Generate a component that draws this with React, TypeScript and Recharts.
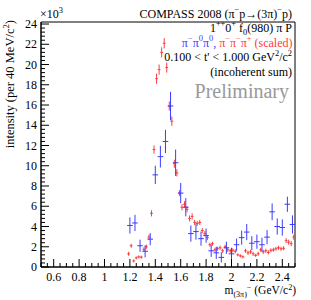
import React from "react";
import { ScatterChart, Scatter, XAxis, YAxis, ErrorBar, ReferenceArea } from "recharts";

// pi- pi0 pi0 (40 MeV bins)
const neutralMass = [
  1.2, 1.24, 1.28, 1.32, 1.36, 1.4, 1.44, 1.48, 1.52, 1.56, 1.6, 1.64, 1.68, 1.72, 1.76, 1.8, 1.84,
  1.88, 1.92, 1.96, 2.0, 2.04, 2.08, 2.12, 2.16, 2.2, 2.24, 2.28, 2.32, 2.36, 2.4, 2.44, 2.48,
];
const neutralVal = [
  4.1, 4.35, 2.1, 1.55, 2.75, 9.1, 10.9, 12.4, 15.9, 10.3, 7.3, 5.9, 3.3, 3.5, 2.8, 3.1, 1.6,
  1.4, 0.95, 1.9, 1.3, 2.2, 2.9, 3.45, 2.35, 2.5, 2.2, 2.95, 5.45, 4.0, 3.9, 6.2, 4.2,
];
const neutralErr = [
  0.8, 0.8, 0.6, 0.6, 0.6, 0.9, 1.07, 1.15, 1.4, 1.3, 1.0, 0.9, 0.8, 0.8, 0.7, 0.7, 0.6,
  0.6, 0.5, 0.6, 0.6, 0.6, 0.7, 0.8, 0.7, 0.7, 0.7, 0.7, 0.83, 0.8, 0.8, 0.75, 0.9,
];

// pi- pi- pi+ scaled (20 MeV bins)
const chargedMass = [
  1.19, 1.21, 1.23, 1.25, 1.27, 1.29, 1.31, 1.33, 1.35, 1.37, 1.39, 1.41, 1.43, 1.45, 1.47, 1.49,
  1.51, 1.53, 1.55, 1.57, 1.59, 1.61, 1.63, 1.65, 1.67, 1.69, 1.71, 1.73, 1.75, 1.77, 1.79, 1.81,
  1.83, 1.85, 1.87, 1.89, 1.91, 1.93, 1.95, 1.97, 1.99, 2.01, 2.03, 2.05, 2.07, 2.09, 2.11, 2.13,
  2.15, 2.17, 2.19, 2.21, 2.23, 2.25, 2.27, 2.29, 2.31, 2.33, 2.35, 2.37, 2.39, 2.41, 2.43, 2.45,
  2.47, 2.49,
];
const chargedVal = [
  1.3, 2.1, 0.6, 0.9, 1.0, 0.97, 1.75, 2.0, 2.95, 5.3, 11.6, 18.6, 19.5, 21.2, 22.1, 19.7,
  15.9, 14.4, 10.2, 9.3, 7.3, 5.9, 6.2, 5.7, 4.8, 5.0, 4.4, 4.3, 4.4, 3.6, 3.3, 2.9,
  2.2, 2.3, 1.7, 1.8, 1.9, 1.6, 2.0, 1.7, 1.6, 1.65, 1.55, 1.2, 1.1, 1.0, 1.6, 1.4,
  1.5, 1.3, 1.15, 1.3, 1.7, 1.5, 1.6, 1.45, 1.65, 1.7, 1.8, 1.9, 1.8, 1.85, 2.6, 2.45,
  2.3, 2.95,
];
const chargedErr = [
  0.2, 0.2, 0.15, 0.15, 0.15, 0.15, 0.2, 0.2, 0.25, 0.3, 0.4, 0.5, 0.5, 0.5, 0.5, 0.5,
  0.45, 0.45, 0.4, 0.35, 0.3, 0.3, 0.3, 0.3, 0.3, 0.3, 0.25, 0.25, 0.25, 0.25, 0.25, 0.25,
  0.2, 0.2, 0.2, 0.2, 0.2, 0.2, 0.2, 0.2, 0.2, 0.2, 0.2, 0.15, 0.15, 0.15, 0.2, 0.2,
  0.2, 0.2, 0.15, 0.2, 0.2, 0.2, 0.2, 0.2, 0.2, 0.2, 0.2, 0.2, 0.2, 0.2, 0.25, 0.25,
  0.25, 0.25,
];

const xMajor = [0.6, 0.8, 1, 1.2, 1.4, 1.6, 1.8, 2, 2.2, 2.4];
const yMajor = [0, 2, 4, 6, 8, 10, 12, 14, 16, 18, 20, 22, 24];

const X_MIN = 0.5;
const X_MAX = 2.5;
const Y_MAX = 24.2;

const xTicks: number[] = [];
for (let i = 0; i <= 40; i++) xTicks.push(+(X_MIN + i * 0.05).toFixed(2));
const yTicks: number[] = [];
for (let i = 0; i <= 60; i++) yTicks.push(+(i * 0.4).toFixed(1));

const neutral = neutralMass.map((x, i) => ({ x, y: neutralVal[i], ey: neutralErr[i], ex: 0.022 }));
const charged = chargedMass.map((x, i) => ({ x, y: chargedVal[i], ey: chargedErr[i], ex: 0.011 }));

const FONT = "'Liberation Serif', 'DejaVu Serif', serif";
const BLUE = "#3b3bff";
const RED = "#ff3b3b";

const near = (a: number, b: number) => Math.abs(a - b) < 1e-6;

const XTick = (props: any) => {
  const { x, y, payload } = props;
  const major = xMajor.some((m) => near(m, payload.value));
  return (
    <g>
      <line x1={x} x2={x} y1={y} y2={y - (major ? 8 : 4)} stroke="#000" />
      {major && (
        <text x={x} y={y + 13.5} textAnchor="middle" fontFamily={FONT} fontSize={12} fill="#000">
          {payload.value}
        </text>
      )}
    </g>
  );
};

const YTick = (props: any) => {
  const { x, y, payload } = props;
  const major = yMajor.some((m) => near(m, payload.value));
  return (
    <g>
      <line x1={x} x2={x + (major ? 8 : 4)} y1={y} y2={y} stroke="#000" />
      {major && (
        <text x={x - 4} y={y + 4} textAnchor="end" fontFamily={FONT} fontSize={12} fill="#000">
          {payload.value}
        </text>
      )}
    </g>
  );
};

type Part = [string, string?, string?];

// renders text with super/subscripts; part = [text, "sup"|"sub"|"", colour]
const Rich = ({ x, y, size, parts, anchor = "end", fill = "#000", rotate, supShift = 0.42 }: any) => {
  let off = 0;
  return (
    <text
      x={x}
      y={y}
      textAnchor={anchor}
      fontFamily={FONT}
      fontSize={size}
      fill={fill}
      transform={rotate ? `rotate(${rotate} ${x} ${y})` : undefined}
    >
      {parts.map((p: Part, i: number) => {
        const kind = p[1] || "";
        let target = 0;
        if (kind === "sup") target = -supShift * size;
        if (kind === "sub") target = 0.25 * size;
        const dy = target - off;
        off = target;
        const small = kind !== "";
        return (
          <tspan key={i} dy={dy} fontSize={small ? size * 0.7 : size} fill={p[2] || fill}>
            {p[0]}
          </tspan>
        );
      })}
    </text>
  );
};

const noMarker = () => <g />;

export default function App() {
  return (
    <div style={{ position: "absolute", left: 0, top: 0, width: 311, height: 300, background: "#fff" }}>
      <ScatterChart width={311} height={300} margin={{ top: 22, right: 16, bottom: 0, left: 0 }}>
        <XAxis
          dataKey="x"
          type="number"
          domain={[X_MIN, X_MAX]}
          ticks={xTicks}
          interval={0}
          tick={<XTick />}
          tickLine={false}
          tickSize={0}
          tickMargin={0}
          height={33}
          axisLine={{ stroke: "#000" }}
          allowDataOverflow
        />
        <YAxis
          dataKey="y"
          type="number"
          domain={[0, Y_MAX]}
          ticks={yTicks}
          interval={0}
          tick={<YTick />}
          tickLine={false}
          tickSize={0}
          tickMargin={0}
          width={41}
          axisLine={{ stroke: "#000" }}
          allowDataOverflow
        />
        <ReferenceArea x1={X_MIN} x2={X_MAX} y1={0} y2={Y_MAX} fill="none" stroke="#000" strokeWidth={1} />
        <Scatter data={charged} shape={noMarker} isAnimationActive={false}>
          <ErrorBar dataKey="ey" direction="y" width={0} stroke={RED} strokeWidth={1} />
          <ErrorBar dataKey="ex" direction="x" width={0} stroke={RED} strokeWidth={1} />
        </Scatter>
        <Scatter data={neutral} shape={noMarker} isAnimationActive={false}>
          <ErrorBar dataKey="ey" direction="y" width={0} stroke={BLUE} strokeWidth={1} />
          <ErrorBar dataKey="ex" direction="x" width={0} stroke={BLUE} strokeWidth={1} />
        </Scatter>
      </ScatterChart>
      <svg width={311} height={300} style={{ position: "absolute", left: 0, top: 0, pointerEvents: "none" }}>
        <Rich x={40} y={18} size={12} anchor="start" parts={[["×10"], ["3", "sup"]]} />
        <Rich
          x={292}
          y={17.5}
          size={12}
          parts={[["COMPASS 2008 (π"], ["−", "sup"], ["p→(3π)"], ["−", "sup"], ["p)"]]}
        />
        <Rich
          x={292}
          y={31.5}
          size={12}
          parts={[["1"], ["++", "sup"], ["0"], ["+", "sup"], [" f"], ["0", "sub"], ["(980) π P"]]}
        />
        <Rich
          x={292.5}
          y={46.5}
          size={12}
          parts={[
            ["π", "", BLUE],
            ["−", "sup", BLUE],
            ["π", "", BLUE],
            ["0", "sup", BLUE],
            ["π", "", BLUE],
            ["0", "sup", BLUE],
            [", ", "", BLUE],
            ["π", "", RED],
            ["−", "sup", RED],
            ["π", "", RED],
            ["−", "sup", RED],
            ["π", "", RED],
            ["+", "sup", RED],
            [" (scaled)", "", RED],
          ]}
        />
        <Rich
          x={292}
          y={61}
          size={12}
          parts={[["0.100 < t' < 1.000 GeV"], ["2", "sup"], ["/c"], ["2", "sup"]]}
        />
        <Rich x={292} y={76} size={12} parts={[["(incoherent sum)"]]} />
        <Rich x={289} y={98} size={20} fill="#999" parts={[["Preliminary"]]} />
        <Rich
          x={14}
          y={20}
          size={12.5}
          rotate={-90}
          parts={[["intensity (per 40 MeV/c"], ["2", "sup"], [")"]]}
        />
        <Rich
          x={296}
          y={294}
          size={11.5}
          supShift={0.35}
          parts={[["m"], ["(3π)", "sub"], ["−", "sup"], [" (GeV/c"], ["2", "sup"], [")"]]}
        />
      </svg>
    </div>
  );
}
